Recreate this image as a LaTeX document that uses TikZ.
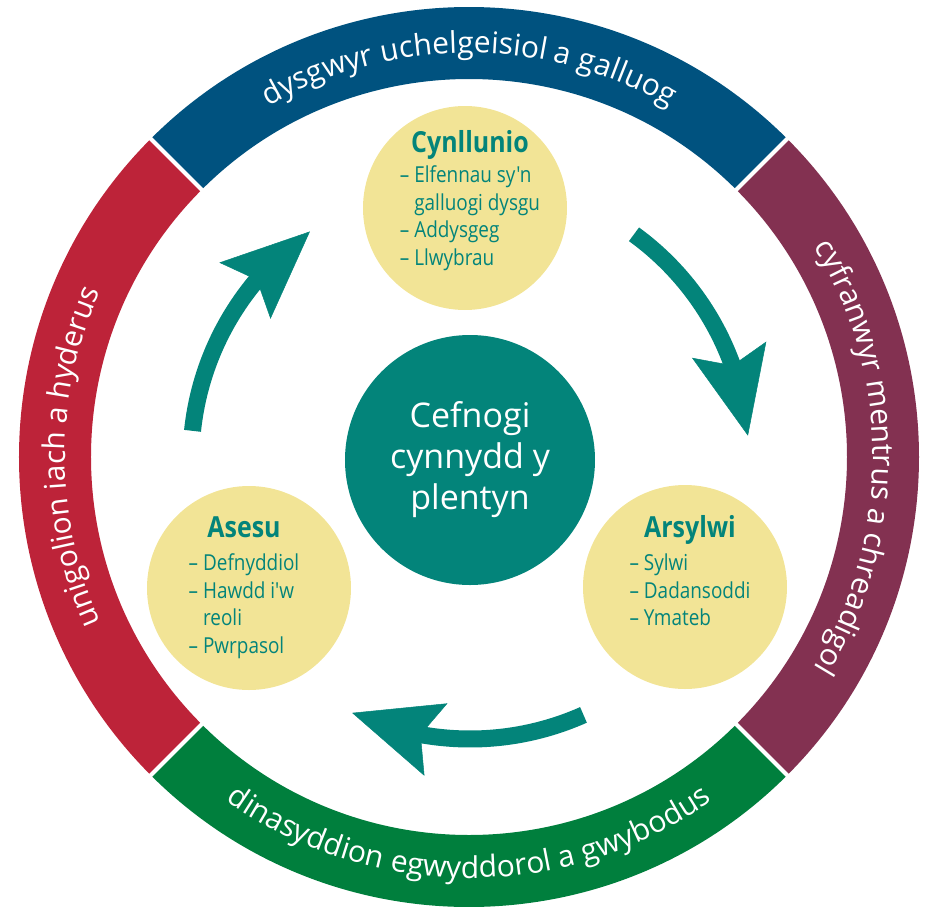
\documentclass[tikz,border=0pt]{standalone}
\usepackage{fontspec}
\setmainfont{Open Sans}
\newfontfamily\condfont[FakeStretch=0.86]{Open Sans}
\usepackage{tikz}
\usetikzlibrary{arrows.meta,bending,decorations.text,positioning}

\definecolor{ringblue}{HTML}{00527F}
\definecolor{ringred}{HTML}{BD2339}
\definecolor{ringplum}{HTML}{833151}
\definecolor{ringgreen}{HTML}{007F3D}
\definecolor{wteal}{HTML}{03847A}
\definecolor{wyellow}{HTML}{F2E496}

\newcommand\stagehead[1]{\multicolumn{1}{@{}c@{}}{\fontsize{29}{34}\selectfont\bfseries #1}}

\begin{document}
\begin{tikzpicture}[x=1pt, y=1pt,
    stage/.style={circle, fill=wyellow, minimum size=204pt, inner sep=0pt},
    hub/.style={circle, fill=wteal, minimum size=250pt, inner sep=0pt, text=white, align=center, font=\fontsize{34}{41}\selectfont},
    stagetext/.style={anchor=base, inner sep=0pt, text=wteal, font=\condfont\fontsize{22}{27.5}\selectfont},
    flowarrow/.style={draw=wteal, line width=17pt, -{Stealth[length=88pt, width=76pt, inset=16pt, line width=0.5pt]}},
    ringtext/.style={decorate, decoration={text along path, text align=center, text color=white, text={|\fontsize{30}{36}\selectfont|#1}}}]

  \useasboundingbox (-469,-449) rectangle (457,457);

  % outer ring
  \foreach \from/\col in {45/ringblue, 135/ringred, 225/ringgreen, 315/ringplum}
    \fill[\col] (\from:378) arc[start angle=\from, delta angle=90, radius=378]
      -- ({\from+90}:450) arc[start angle={\from+90}, delta angle=-90, radius=450] -- cycle;
  \foreach \a in {45,135,225,315}
    \draw[white, line width=4pt] (\a:370) -- (\a:456);

  \path[ringtext={dysgwyr uchelgeisiol a galluog}] (135:404) arc[start angle=135, end angle=45, radius=404];
  \path[ringtext={cyfranwyr mentrus a chreadigol}] (45:404) arc[start angle=45, end angle=-45, radius=404];
  \path[ringtext={dinasyddion egwyddorol a gwybodus}] (225:421) arc[start angle=225, end angle=315, radius=421];
  \path[ringtext={unigolion iach a hyderus}] (225:404) arc[start angle=225, end angle=135, radius=404];

  % centre and stages
  \node[hub] (hub) at (1,-3) {Cefnogi\\cynnydd y\\plentyn};
  \node[stage] (plan) at (-4,249) {};
  \node[stage] (assess) at (-220,-131) {};
  \node[stage] (observe) at (216,-130) {};

  \node[stagetext] (plantext) at ([xshift=5pt, yshift=56pt]plan.center) {%
    \begin{tabular}[t]{@{}l@{}}\stagehead{Cynllunio}\\[3pt]
    – Elfennau sy'n\\ \phantom{– }galluogi dysgu\\ – Addysgeg\\ – Llwybrau\end{tabular}};
  \node[stagetext] (assesstext) at ([xshift=-5pt, yshift=51pt]assess.center) {%
    \begin{tabular}[t]{@{}l@{}}\stagehead{Asesu}\\[6pt]
    – Defnyddiol\\ – Hawdd i'w\\ \phantom{– }reoli\\ – Pwrpasol\end{tabular}};
  \node[stagetext] (observetext) at ([xshift=5pt, yshift=50pt]observe.center) {%
    \begin{tabular}[t]{@{}l@{}}\stagehead{Arsylwi}\\[6pt]
    – Sylwi\\ – Dadansoddi\\ – Ymateb\end{tabular}};

  % arrows round the cycle
  \foreach \s in {54,294,174}
    \draw[flowarrow] ([shift={(\s:279)}]hub.center) arc[start angle=\s, delta angle=-49, radius=279];
\end{tikzpicture}
\end{document}
